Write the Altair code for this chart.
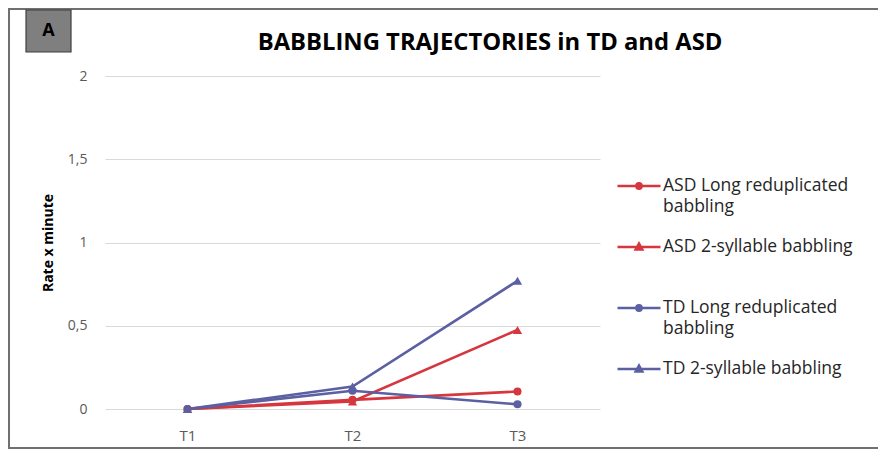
import altair as alt
import pandas as pd

# ---- data ----
times = ["T1", "T2", "T3"]
series_names = [
    "ASD Long reduplicated|babbling",
    "ASD 2-syllable babbling|",
    "TD Long reduplicated|babbling",
    "TD 2-syllable babbling|",
]
marker_kind = ["circle", "triangle", "circle", "triangle"]
asd_long = [0.0, 0.055, 0.105]
asd_two = [0.0, 0.045, 0.475]
td_long = [0.0, 0.11, 0.028]
td_two = [0.0, 0.135, 0.77]
all_values = [asd_long, asd_two, td_long, td_two]

series_colors = ["#d6363d", "#d6363d", "#5a60a2", "#5a60a2"]
y_ticks = [0, 0.5, 1, 1.5, 2]

rows = []
for name, kind, vals in zip(series_names, marker_kind, all_values):
    for t, v in zip(times, vals):
        rows.append({"time": t, "value": v, "series": name, "kind": kind})
df = pd.DataFrame(rows)

x_enc = alt.X("time:N", sort=times, scale=alt.Scale(paddingOuter=0.5),
              axis=alt.Axis(title=None, labelAngle=0, domain=False, ticks=False,
                            grid=False, labelPadding=19, labelColor="#595959",
                            labelFontSize=15, labelFont="Open Sans"))
y_enc = alt.Y("value:Q", scale=alt.Scale(domain=[0, 2], nice=False),
              axis=alt.Axis(title="Rate x minute", values=y_ticks, format="~g",
                            labelExpr="replace(datum.label, '.', ',')",
                            domain=False, ticks=False, gridColor="#d9d9d9",
                            gridWidth=1.2, labelColor="#595959", labelFontSize=14,
                            labelFont="Open Sans", labelPadding=18,
                            titleFont="Open Sans", titleFontSize=14,
                            titleFontWeight="bold", titleColor="#000000",
                            titlePadding=12))

circle_path = "M-1,0L1,0M-0.12,0A0.12,0.12,0,1,1,0.12,0A0.12,0.12,0,1,1,-0.12,0Z"
tri_path = "M-1,0L1,0M-0.15,0.11L0,-0.16L0.15,0.11Z"
legend_shapes = [circle_path, tri_path, circle_path, tri_path]

legend_props = dict(title=None, orient="none", legendX=511, legendY=87,
                    symbolSize=1850, symbolStrokeWidth=2.6,
                    labelExpr="split(datum.label, '|')",
                    labelFont="Open Sans", labelFontSize=17.5,
                    labelColor="#262626", labelOffset=1,
                    rowPadding=8, labelLimit=400, symbolOpacity=1)

color_enc = alt.Color("series:N", scale=alt.Scale(domain=series_names, range=series_colors),
                      legend=alt.Legend(**legend_props))

base = alt.Chart(df)

lines = base.mark_line(strokeWidth=2.6).encode(x=x_enc, y=y_enc, color=color_enc)

circles = base.transform_filter(alt.datum.kind == "circle").mark_point(
    filled=True, shape="circle", size=65, opacity=1).encode(x=x_enc, y=y_enc, color=color_enc)
triangles = base.transform_filter(alt.datum.kind == "triangle").mark_point(
    filled=True, shape="triangle-up", size=85, opacity=1).encode(x=x_enc, y=y_enc, color=color_enc)

legend_layer = base.transform_filter("false").mark_point(
    filled=False, strokeWidth=2.6, opacity=1).encode(
    x=x_enc, y=y_enc, color=color_enc,
    shape=alt.Shape("series:N", scale=alt.Scale(domain=series_names, range=legend_shapes),
                    legend=alt.Legend(**legend_props)),
)

deco = pd.DataFrame({"k": [0]})
frame = alt.Chart(deco).mark_rect(fill=None, stroke="#707070", strokeWidth=2).encode(
    x=alt.value(-96), x2=alt.value(820), y=alt.value(-67), y2=alt.value(372))
abox = alt.Chart(deco).mark_rect(fill="#7f7f7f", stroke="#3f3f3f", strokeWidth=1.2).encode(
    x=alt.value(-79), x2=alt.value(-34), y=alt.value(-66), y2=alt.value(-24))
atext = alt.Chart(deco).mark_text(text="A", font="Open Sans", fontSize=18,
                                  fontWeight="bold", color="#000000").encode(
    x=alt.value(-56.5), y=alt.value(-45))
title = alt.Chart(deco).mark_text(text="BABBLING TRAJECTORIES in TD and ASD",
                                  font="Open Sans", fontSize=23.8, fontWeight="bold",
                                  color="#000000").encode(
    x=alt.value(385), y=alt.value(-33))

chart = alt.layer(frame, abox, atext, title, lines, circles, triangles, legend_layer).properties(
    width=495, height=333,
    autosize=alt.AutoSizeParams(type="none"),
    padding={"left": 97, "top": 68, "right": 278, "bottom": 40},
).configure(view={"stroke": None}, style={"guide-label": {"lineHeight": 21}})

chart.save("out.html", embed_options={"renderer": "svg", "actions": False})
